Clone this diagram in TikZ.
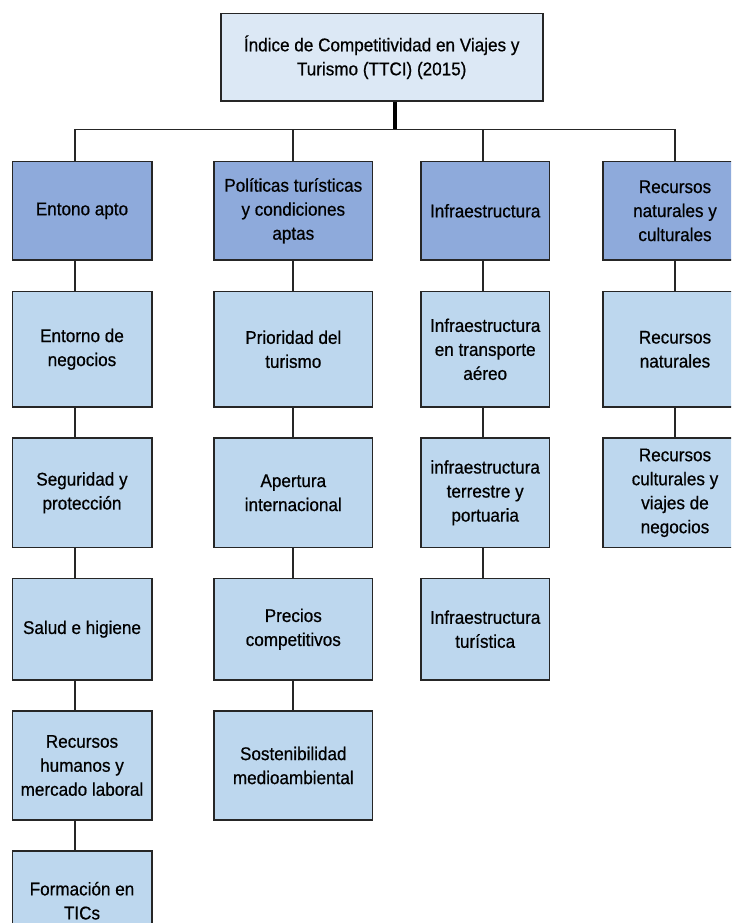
\documentclass[tikz,border=0pt]{standalone}
\usepackage{fontspec}
\setmainfont[FakeStretch=0.93,FakeBold=0.6]{Liberation Sans}
\definecolor{rootblue}{HTML}{DCE8F5}
\definecolor{pillarblue}{HTML}{8EAADB}
\definecolor{leafblue}{HTML}{BDD7EE}
\definecolor{edge}{HTML}{262626}
\begin{document}
\begin{tikzpicture}[x=1pt,y=-1pt,
  box/.style={draw=edge, line width=1.6pt, align=center, inner sep=0pt,
    font=\fontsize{18.4}{24}\selectfont, text=black},
  root/.style={box, fill=rootblue, minimum width=322pt, minimum height=87.7pt},
  pillar/.style={box, fill=pillarblue, minimum height=98.3pt},
  leaf/.style={box, fill=leafblue},
  link/.style={draw=edge, line width=1.6pt},
  stem/.style={draw=black, line width=3.8pt}]
\useasboundingbox (0,0) rectangle (731,923);
\clip (0,0) rectangle (731,923);
\fill[white] (0,0) rectangle (731,923);

% column widths and row heights
\tikzset{
  c1/.style={minimum width=139.4pt},
  c2/.style={minimum width=158.7pt},
  c3/.style={minimum width=128.3pt},
  c4/.style={minimum width=144.6pt},
  r2/.style={minimum height=115.3pt},
  r3/.style={minimum height=109.5pt},
  r4/.style={minimum height=101.7pt},
  r5/.style={minimum height=109pt},
  r6/.style={minimum height=100pt}}

% root
\node[root] (root) at (381.7,57.2) {Índice de Competitividad en Viajes y\\Turismo (TTCI) (2015)};

% pillars
\node[pillar,c1] (p1) at (82,210.8) {Entono apto};
\node[pillar,c2] (p2) at (293.3,210.8) {Políticas turísticas\\y condiciones\\aptas};
\node[pillar,c3] (p3) at (485.2,210.8) {Infraestructura};
\node[pillar,c4] (p4) at (675,210.8) {Recursos\\naturales y\\culturales};

% column 1
\node[leaf,c1,r2] (a2) at (82,349.3) {Entorno de\\negocios};
\node[leaf,c1,r3] (a3) at (82,492.8) {Seguridad y\\protección};
\node[leaf,c1,r4] (a4) at (82,629.2) {Salud e higiene};
\node[leaf,c1,r5] (a5) at (82,765.5) {Recursos\\humanos y\\mercado laboral};
\node[leaf,c1,r6] (a6) at (82,900.7) {Formación en\\TICs};

% column 2
\node[leaf,c2,r2] (b2) at (293.3,349.3) {Prioridad del\\turismo};
\node[leaf,c2,r3] (b3) at (293.3,492.8) {Apertura\\internacional};
\node[leaf,c2,r4] (b4) at (293.3,629.2) {Precios\\competitivos};
\node[leaf,c2,r5] (b5) at (293.3,765.5) {Sostenibilidad\\medioambiental};

% column 3
\node[leaf,c3,r2] (d2) at (485.2,349.3) {Infraestructura\\en transporte\\aéreo};
\node[leaf,c3,r3] (d3) at (485.2,492.8) {infraestructura\\terrestre y\\portuaria};
\node[leaf,c3,r4] (d4) at (485.2,629.2) {Infraestructura\\turística};

% column 4
\node[leaf,c4,r2] (e2) at (675,349.3) {Recursos\\naturales};
\node[leaf,c4,r3] (e3) at (675,492.8) {Recursos\\culturales y\\viajes de\\negocios};

% connector lanes
\coordinate (x1) at (75,0);
\coordinate (x2) at (293,0);
\coordinate (x3) at (483,0);
\coordinate (x4) at (675,0);
\coordinate (bar) at (395,129.5);

% tree from the root to the pillars
\draw[stem] (root.south -| bar) -- (bar);
\draw[link] (p1.north -| x1) |- (bar) -| (p4.north -| x4);
\draw[link] (bar -| x2) -- (p2.north -| x2);
\draw[link] (bar -| x3) -- (p3.north -| x3);

% chains below each pillar
\draw[link] (p1.south -| x1) -- (a2.north -| x1);
\draw[link] (a2.south -| x1) -- (a3.north -| x1);
\draw[link] (a3.south -| x1) -- (a4.north -| x1);
\draw[link] (a4.south -| x1) -- (a5.north -| x1);
\draw[link] (a5.south -| x1) -- (a6.north -| x1);

\draw[link] (p2.south -| x2) -- (b2.north -| x2);
\draw[link] (b2.south -| x2) -- (b3.north -| x2);
\draw[link] (b3.south -| x2) -- (b4.north -| x2);
\draw[link] (b4.south -| x2) -- (b5.north -| x2);

\draw[link] (p3.south -| x3) -- (d2.north -| x3);
\draw[link] (d2.south -| x3) -- (d3.north -| x3);
\draw[link] (d3.south -| x3) -- (d4.north -| x3);

\draw[link] (p4.south -| x4) -- (e2.north -| x4);
\draw[link] (e2.south -| x4) -- (e3.north -| x4);
\end{tikzpicture}
\end{document}
